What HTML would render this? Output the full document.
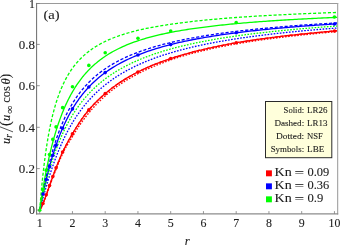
<!DOCTYPE html>
<html><head><meta charset="utf-8"><title>plot</title>
<style>
html,body{margin:0;padding:0;background:#fff;}
body{width:341px;height:245px;overflow:hidden;font-family:"Liberation Serif",serif;}
svg{display:block;will-change:transform;}
text{font-family:"Liberation Serif",serif;fill:#1c1c1c;stroke:#1c1c1c;stroke-width:0.1px;}
</style></head><body>
<svg width="341" height="245" viewBox="0 0 341 245">
<rect width="341" height="245" fill="#fff"/>
<defs><clipPath id="cp"><rect x="37" y="4" width="300.5" height="209.5"/></clipPath></defs>

<g clip-path="url(#cp)" fill="none" stroke-width="1.3" stroke-linejoin="round">
<path d="M39.70,210.30 L40.25,209.45 L40.80,208.50 L41.35,207.76 L41.90,206.56 L42.45,205.29 L43.00,203.99 L43.55,202.72 L44.10,201.33 L44.65,199.91 L45.20,198.46 L45.75,196.99 L46.31,195.50 L46.86,193.99 L47.41,192.48 L47.96,190.96 L48.51,189.44 L49.06,187.91 L49.61,186.39 L50.16,184.86 L50.71,183.35 L51.26,181.84 L51.81,180.33 L52.36,178.84 L52.91,177.36 L53.46,175.90 L54.01,174.44 L54.56,173.00 L55.11,171.58 L55.66,170.17 L56.21,168.77 L56.76,167.39 L57.31,166.03 L57.86,164.68 L58.41,163.35 L58.96,162.04 L59.52,160.74 L60.07,159.46 L60.62,158.20 L61.17,156.95 L61.72,155.72 L62.27,154.51 L62.82,153.34 L63.37,152.22 L63.92,151.13 L64.47,150.05 L65.02,148.99 L65.57,147.94 L66.12,146.94 L66.67,145.99 L67.22,145.05 L67.77,144.14 L68.32,143.23 L68.87,142.34 L69.42,141.47 L69.97,140.61 L70.52,139.76 L71.07,138.93 L71.62,138.11 L72.17,137.16 L72.73,136.21 L73.28,135.27 L73.83,134.34 L74.38,133.42 L74.93,132.51 L75.48,131.62 L76.03,130.73 L76.58,129.86 L77.13,128.99 L77.68,128.14 L78.23,127.29 L78.78,126.46 L79.33,125.64 L79.88,124.83 L80.43,124.02 L80.98,123.23 L81.53,122.44 L82.08,121.67 L82.63,120.90 L83.18,120.15 L83.73,119.40 L84.28,118.66 L84.83,117.93 L85.38,117.21 L85.94,116.49 L86.49,115.79 L87.04,115.09 L87.59,114.40 L88.14,113.72 L88.69,113.04 L89.24,112.38 L89.79,111.72 L90.34,111.07 L90.89,110.42 L91.44,109.79 L91.99,109.16 L92.54,108.54 L93.09,107.92 L93.64,107.31 L94.19,106.71 L94.74,106.11 L95.29,105.52 L95.84,104.94 L96.39,104.36 L96.94,103.79 L97.49,103.23 L98.04,102.67 L98.59,102.12 L99.15,101.57 L99.70,101.03 L100.25,100.49 L100.80,99.96 L101.35,99.44 L101.90,98.92 L102.45,98.40 L103.00,97.90 L103.55,97.39 L104.10,96.89 L104.65,96.40 L105.20,95.91 L107.15,94.22 L109.11,92.58 L111.06,91.00 L113.02,89.48 L114.97,88.00 L116.92,86.57 L118.88,85.19 L120.83,83.85 L122.79,82.56 L124.74,81.30 L126.69,80.08 L128.65,78.90 L130.60,77.75 L132.56,76.64 L134.51,75.56 L136.46,74.51 L138.42,73.49 L140.37,72.49 L142.33,71.53 L144.28,70.59 L146.23,69.67 L148.19,68.78 L150.14,67.92 L152.10,67.07 L154.05,66.25 L156.00,65.45 L157.96,64.66 L159.91,63.90 L161.87,63.16 L163.82,62.43 L165.77,61.72 L167.73,61.03 L169.68,60.23 L171.64,59.49 L173.59,58.85 L175.54,58.22 L177.50,57.61 L179.45,57.01 L181.41,56.43 L183.36,55.85 L185.31,55.29 L187.27,54.74 L189.22,54.20 L191.18,53.67 L193.13,53.16 L195.08,52.65 L197.04,52.15 L198.99,51.66 L200.95,51.18 L202.90,50.71 L204.85,50.25 L206.81,49.79 L208.76,49.35 L210.72,48.91 L212.67,48.48 L214.62,48.06 L216.58,47.64 L218.53,47.23 L220.49,46.83 L222.44,46.44 L224.39,46.05 L226.35,45.67 L228.30,45.29 L230.26,44.93 L232.21,44.56 L234.16,44.21 L236.12,43.85 L238.07,43.52 L240.03,43.19 L241.98,42.87 L243.93,42.55 L245.89,42.24 L247.84,41.93 L249.80,41.63 L251.75,41.33 L253.70,41.04 L255.66,40.75 L257.61,40.46 L259.57,40.18 L261.52,39.90 L263.47,39.63 L265.43,39.36 L267.38,39.10 L269.34,38.84 L271.29,38.58 L273.24,38.33 L275.20,38.08 L277.15,37.83 L279.11,37.59 L281.06,37.35 L283.01,37.11 L284.97,36.88 L286.92,36.65 L288.88,36.42 L290.83,36.19 L292.78,35.97 L294.74,35.75 L296.69,35.54 L298.65,35.33 L300.60,35.12 L302.55,34.91 L304.51,34.70 L306.46,34.50 L308.42,34.30 L310.37,34.11 L312.32,33.91 L314.28,33.72 L316.23,33.53 L318.19,33.34 L320.14,33.16 L322.09,32.97 L324.05,32.79 L326.00,32.61 L327.96,32.44 L329.91,32.26 L331.86,32.09 L333.82,31.92 L335.77,31.75 L337.72,31.59" stroke="#ff0000" stroke-dasharray="1.65 1.42"/>
<path d="M39.70,210.30 L40.25,209.38 L40.80,208.36 L41.35,207.24 L41.90,206.04 L42.45,204.77 L43.00,203.44 L43.55,202.06 L44.10,200.64 L44.65,199.19 L45.20,197.70 L45.75,196.19 L46.31,194.67 L46.86,193.13 L47.41,191.58 L47.96,190.02 L48.51,188.46 L49.06,186.91 L49.61,185.35 L50.16,183.80 L50.71,182.25 L51.26,180.71 L51.81,179.18 L52.36,177.66 L52.91,176.16 L53.46,174.66 L54.01,173.18 L54.56,171.71 L55.11,170.26 L55.66,168.82 L56.21,167.40 L56.76,165.99 L57.31,164.60 L57.86,163.23 L58.41,161.87 L58.96,160.53 L59.52,159.20 L60.07,157.89 L60.62,156.60 L61.17,155.33 L61.72,154.07 L62.27,152.83 L62.82,151.63 L63.37,150.49 L63.92,149.37 L64.47,148.26 L65.02,147.17 L65.57,146.09 L66.12,145.03 L66.67,143.99 L67.22,142.96 L67.77,141.95 L68.32,140.95 L68.87,139.96 L69.42,138.99 L69.97,138.04 L70.52,137.09 L71.07,136.17 L71.62,135.25 L72.17,134.35 L72.73,133.42 L73.28,132.46 L73.83,131.52 L74.38,130.58 L74.93,129.66 L75.48,128.75 L76.03,127.85 L76.58,126.97 L77.13,126.09 L77.68,125.23 L78.23,124.38 L78.78,123.54 L79.33,122.71 L79.88,121.89 L80.43,121.08 L80.98,120.28 L81.53,119.49 L82.08,118.72 L82.63,117.95 L83.18,117.19 L83.73,116.44 L84.28,115.69 L84.83,114.96 L85.38,114.24 L85.94,113.52 L86.49,112.82 L87.04,112.12 L87.59,111.43 L88.14,110.75 L88.69,110.08 L89.24,109.43 L89.79,108.79 L90.34,108.16 L90.89,107.54 L91.44,106.93 L91.99,106.32 L92.54,105.72 L93.09,105.13 L93.64,104.54 L94.19,103.97 L94.74,103.39 L95.29,102.83 L95.84,102.27 L96.39,101.71 L96.94,101.17 L97.49,100.63 L98.04,100.09 L98.59,99.56 L99.15,99.04 L99.70,98.52 L100.25,98.01 L100.80,97.51 L101.35,97.01 L101.90,96.51 L102.45,96.02 L103.00,95.54 L103.55,95.06 L104.10,94.59 L104.65,94.12 L105.20,93.65 L107.15,91.99 L109.11,90.39 L111.06,88.85 L113.02,87.35 L114.97,85.91 L116.92,84.51 L118.88,83.16 L120.83,81.85 L122.79,80.58 L124.74,79.35 L126.69,78.16 L128.65,77.00 L130.60,75.88 L132.56,74.79 L134.51,73.73 L136.46,72.69 L138.42,71.69 L140.37,70.73 L142.33,69.79 L144.28,68.88 L146.23,67.99 L148.19,67.12 L150.14,66.28 L152.10,65.46 L154.05,64.66 L156.00,63.87 L157.96,63.11 L159.91,62.37 L161.87,61.64 L163.82,60.93 L165.77,60.24 L167.73,59.56 L169.68,58.89 L171.64,58.25 L173.59,57.61 L175.54,56.99 L177.50,56.39 L179.45,55.79 L181.41,55.21 L183.36,54.64 L185.31,54.09 L187.27,53.54 L189.22,53.01 L191.18,52.48 L193.13,51.97 L195.08,51.47 L197.04,50.97 L198.99,50.49 L200.95,50.01 L202.90,49.55 L204.85,49.09 L206.81,48.64 L208.76,48.20 L210.72,47.77 L212.67,47.34 L214.62,46.93 L216.58,46.52 L218.53,46.11 L220.49,45.72 L222.44,45.33 L224.39,44.94 L226.35,44.57 L228.30,44.20 L230.26,43.83 L232.21,43.48 L234.16,43.12 L236.12,42.78 L238.07,42.45 L240.03,42.13 L241.98,41.81 L243.93,41.49 L245.89,41.19 L247.84,40.88 L249.80,40.59 L251.75,40.29 L253.70,40.00 L255.66,39.72 L257.61,39.44 L259.57,39.16 L261.52,38.89 L263.47,38.62 L265.43,38.36 L267.38,38.10 L269.34,37.84 L271.29,37.59 L273.24,37.34 L275.20,37.10 L277.15,36.86 L279.11,36.62 L281.06,36.38 L283.01,36.15 L284.97,35.92 L286.92,35.70 L288.88,35.48 L290.83,35.26 L292.78,35.04 L294.74,34.83 L296.69,34.62 L298.65,34.41 L300.60,34.20 L302.55,34.00 L304.51,33.80 L306.46,33.60 L308.42,33.41 L310.37,33.22 L312.32,33.03 L314.28,32.84 L316.23,32.65 L318.19,32.47 L320.14,32.29 L322.09,32.11 L324.05,31.94 L326.00,31.76 L327.96,31.59 L329.91,31.42 L331.86,31.25 L333.82,31.09 L335.77,30.92 L337.72,30.76" stroke="#ff0000" stroke-dasharray="3.1 1.85"/>
<path d="M39.70,210.30 L40.25,209.38 L40.80,208.36 L41.35,207.24 L41.90,206.04 L42.45,204.77 L43.00,203.44 L43.55,202.06 L44.10,200.64 L44.65,199.19 L45.20,197.70 L45.75,196.19 L46.31,194.67 L46.86,193.13 L47.41,191.58 L47.96,190.02 L48.51,188.46 L49.06,186.91 L49.61,185.35 L50.16,183.80 L50.71,182.25 L51.26,180.71 L51.81,179.18 L52.36,177.66 L52.91,176.16 L53.46,174.66 L54.01,173.18 L54.56,171.71 L55.11,170.26 L55.66,168.82 L56.21,167.40 L56.76,165.99 L57.31,164.60 L57.86,163.23 L58.41,161.87 L58.96,160.53 L59.52,159.20 L60.07,157.89 L60.62,156.60 L61.17,155.33 L61.72,154.07 L62.27,152.83 L62.82,151.63 L63.37,150.49 L63.92,149.37 L64.47,148.26 L65.02,147.17 L65.57,146.09 L66.12,145.03 L66.67,143.99 L67.22,142.96 L67.77,141.95 L68.32,140.95 L68.87,139.96 L69.42,138.99 L69.97,138.04 L70.52,137.09 L71.07,136.17 L71.62,135.25 L72.17,134.35 L72.73,133.42 L73.28,132.46 L73.83,131.52 L74.38,130.58 L74.93,129.66 L75.48,128.75 L76.03,127.85 L76.58,126.97 L77.13,126.09 L77.68,125.23 L78.23,124.38 L78.78,123.54 L79.33,122.71 L79.88,121.89 L80.43,121.08 L80.98,120.28 L81.53,119.49 L82.08,118.72 L82.63,117.95 L83.18,117.19 L83.73,116.44 L84.28,115.69 L84.83,114.96 L85.38,114.24 L85.94,113.52 L86.49,112.82 L87.04,112.12 L87.59,111.43 L88.14,110.75 L88.69,110.08 L89.24,109.43 L89.79,108.79 L90.34,108.16 L90.89,107.54 L91.44,106.93 L91.99,106.32 L92.54,105.72 L93.09,105.13 L93.64,104.54 L94.19,103.97 L94.74,103.39 L95.29,102.83 L95.84,102.27 L96.39,101.71 L96.94,101.17 L97.49,100.63 L98.04,100.09 L98.59,99.56 L99.15,99.04 L99.70,98.52 L100.25,98.01 L100.80,97.51 L101.35,97.01 L101.90,96.51 L102.45,96.02 L103.00,95.54 L103.55,95.06 L104.10,94.59 L104.65,94.12 L105.20,93.65 L107.15,91.99 L109.11,90.39 L111.06,88.85 L113.02,87.35 L114.97,85.91 L116.92,84.51 L118.88,83.16 L120.83,81.85 L122.79,80.58 L124.74,79.35 L126.69,78.16 L128.65,77.00 L130.60,75.88 L132.56,74.79 L134.51,73.73 L136.46,72.69 L138.42,71.69 L140.37,70.73 L142.33,69.79 L144.28,68.88 L146.23,67.99 L148.19,67.12 L150.14,66.28 L152.10,65.46 L154.05,64.66 L156.00,63.87 L157.96,63.11 L159.91,62.37 L161.87,61.64 L163.82,60.93 L165.77,60.24 L167.73,59.56 L169.68,58.89 L171.64,58.25 L173.59,57.61 L175.54,56.99 L177.50,56.39 L179.45,55.79 L181.41,55.21 L183.36,54.64 L185.31,54.09 L187.27,53.54 L189.22,53.01 L191.18,52.48 L193.13,51.97 L195.08,51.47 L197.04,50.97 L198.99,50.49 L200.95,50.01 L202.90,49.55 L204.85,49.09 L206.81,48.64 L208.76,48.20 L210.72,47.77 L212.67,47.34 L214.62,46.93 L216.58,46.52 L218.53,46.11 L220.49,45.72 L222.44,45.33 L224.39,44.94 L226.35,44.57 L228.30,44.20 L230.26,43.83 L232.21,43.48 L234.16,43.12 L236.12,42.78 L238.07,42.45 L240.03,42.13 L241.98,41.81 L243.93,41.49 L245.89,41.19 L247.84,40.88 L249.80,40.59 L251.75,40.29 L253.70,40.00 L255.66,39.72 L257.61,39.44 L259.57,39.16 L261.52,38.89 L263.47,38.62 L265.43,38.36 L267.38,38.10 L269.34,37.84 L271.29,37.59 L273.24,37.34 L275.20,37.10 L277.15,36.86 L279.11,36.62 L281.06,36.38 L283.01,36.15 L284.97,35.92 L286.92,35.70 L288.88,35.48 L290.83,35.26 L292.78,35.04 L294.74,34.83 L296.69,34.62 L298.65,34.41 L300.60,34.20 L302.55,34.00 L304.51,33.80 L306.46,33.60 L308.42,33.41 L310.37,33.22 L312.32,33.03 L314.28,32.84 L316.23,32.65 L318.19,32.47 L320.14,32.29 L322.09,32.11 L324.05,31.94 L326.00,31.76 L327.96,31.59 L329.91,31.42 L331.86,31.25 L333.82,31.09 L335.77,30.92 L337.72,30.76" stroke="#ff0000"/>
<path d="M39.70,210.30 L40.25,208.25 L40.80,206.20 L41.35,204.15 L41.90,202.11 L42.45,200.09 L43.00,198.08 L43.55,196.08 L44.10,194.11 L44.65,192.15 L45.20,190.22 L45.75,188.31 L46.31,186.42 L46.86,184.55 L47.41,182.71 L47.96,180.90 L48.51,179.10 L49.06,177.34 L49.61,175.60 L50.16,173.88 L50.71,172.19 L51.26,170.53 L51.81,168.89 L52.36,167.28 L52.91,165.69 L53.46,164.12 L54.01,162.58 L54.56,161.07 L55.11,159.57 L55.66,158.10 L56.21,156.66 L56.76,155.23 L57.31,153.83 L57.86,152.45 L58.41,151.10 L58.96,149.76 L59.52,148.44 L60.07,147.15 L60.62,145.88 L61.17,144.62 L61.72,143.39 L62.27,142.17 L62.82,140.97 L63.37,139.79 L63.92,138.63 L64.47,137.49 L65.02,136.36 L65.57,135.26 L66.12,134.16 L66.67,133.09 L67.22,132.03 L67.77,130.99 L68.32,129.96 L68.87,128.95 L69.42,127.95 L69.97,126.96 L70.52,126.00 L71.07,125.04 L71.62,124.10 L72.17,123.17 L72.73,122.26 L73.28,121.36 L73.83,120.47 L74.38,119.59 L74.93,118.73 L75.48,117.88 L76.03,117.04 L76.58,116.21 L77.13,115.39 L77.68,114.58 L78.23,113.79 L78.78,113.01 L79.33,112.23 L79.88,111.47 L80.43,110.71 L80.98,109.97 L81.53,109.24 L82.08,108.51 L82.63,107.80 L83.18,107.09 L83.73,106.40 L84.28,105.71 L84.83,105.03 L85.38,104.36 L85.94,103.70 L86.49,103.05 L87.04,102.40 L87.59,101.76 L88.14,101.13 L88.69,100.51 L89.24,99.90 L89.79,99.29 L90.34,98.69 L90.89,98.10 L91.44,97.52 L91.99,96.94 L92.54,96.37 L93.09,95.80 L93.64,95.24 L94.19,94.69 L94.74,94.15 L95.29,93.61 L95.84,93.08 L96.39,92.55 L96.94,92.03 L97.49,91.51 L98.04,91.00 L98.59,90.50 L99.15,90.00 L99.70,89.51 L100.25,89.02 L100.80,88.54 L101.35,88.07 L101.90,87.60 L102.45,87.13 L103.00,86.67 L103.55,86.21 L104.10,85.76 L104.65,85.32 L105.20,84.87 L107.15,83.34 L109.11,81.87 L111.06,80.44 L113.02,79.07 L114.97,77.74 L116.92,76.46 L118.88,75.22 L120.83,74.02 L122.79,72.86 L124.74,71.74 L126.69,70.65 L128.65,69.60 L130.60,68.58 L132.56,67.58 L134.51,66.62 L136.46,65.69 L138.42,64.78 L140.37,63.90 L142.33,63.04 L144.28,62.21 L146.23,61.40 L148.19,60.61 L150.14,59.84 L152.10,59.09 L154.05,58.37 L156.00,57.66 L157.96,56.96 L159.91,56.29 L161.87,55.63 L163.82,54.99 L165.77,54.36 L167.73,53.75 L169.68,53.15 L171.64,52.57 L173.59,52.00 L175.54,51.44 L177.50,50.90 L179.45,50.37 L181.41,49.84 L183.36,49.34 L185.31,48.84 L187.27,48.35 L189.22,47.87 L191.18,47.40 L193.13,46.95 L195.08,46.50 L197.04,46.06 L198.99,45.63 L200.95,45.21 L202.90,44.79 L204.85,44.39 L206.81,43.99 L208.76,43.60 L210.72,43.21 L212.67,42.84 L214.62,42.47 L216.58,42.11 L218.53,41.75 L220.49,41.40 L222.44,41.06 L224.39,40.72 L226.35,40.39 L228.30,40.07 L230.26,39.75 L232.21,39.43 L234.16,39.13 L236.12,38.82 L238.07,38.52 L240.03,38.23 L241.98,37.94 L243.93,37.66 L245.89,37.38 L247.84,37.10 L249.80,36.83 L251.75,36.57 L253.70,36.31 L255.66,36.05 L257.61,35.80 L259.57,35.55 L261.52,35.30 L263.47,35.06 L265.43,34.82 L267.38,34.58 L269.34,34.35 L271.29,34.12 L273.24,33.90 L275.20,33.68 L277.15,33.46 L279.11,33.24 L281.06,33.03 L283.01,32.82 L284.97,32.61 L286.92,32.41 L288.88,32.21 L290.83,32.01 L292.78,31.82 L294.74,31.62 L296.69,31.43 L298.65,31.25 L300.60,31.06 L302.55,30.88 L304.51,30.70 L306.46,30.52 L308.42,30.34 L310.37,30.17 L312.32,30.00 L314.28,29.83 L316.23,29.66 L318.19,29.50 L320.14,29.33 L322.09,29.17 L324.05,29.02 L326.00,28.86 L327.96,28.70 L329.91,28.55 L331.86,28.40 L333.82,28.25 L335.77,28.10 L337.72,27.96" stroke="#0000ff" stroke-dasharray="1.65 1.42"/>
<path d="M39.70,210.30 L40.25,207.05 L40.80,203.88 L41.35,200.77 L41.90,197.74 L42.45,194.77 L43.00,191.88 L43.55,189.05 L44.10,186.28 L44.65,183.58 L45.20,180.95 L45.75,178.38 L46.31,175.86 L46.86,173.41 L47.41,171.02 L47.96,168.68 L48.51,166.39 L49.06,164.16 L49.61,161.98 L50.16,159.86 L50.71,157.78 L51.26,155.75 L51.81,153.77 L52.36,151.83 L52.91,149.94 L53.46,148.09 L54.01,146.28 L54.56,144.52 L55.11,142.79 L55.66,141.10 L56.21,139.45 L56.76,137.83 L57.31,136.25 L57.86,134.71 L58.41,133.19 L58.96,131.71 L59.52,130.27 L60.07,128.85 L60.62,127.46 L61.17,126.10 L61.72,124.77 L62.27,123.47 L62.82,122.19 L63.37,120.94 L63.92,119.72 L64.47,118.52 L65.02,117.34 L65.57,116.19 L66.12,115.05 L66.67,113.95 L67.22,112.86 L67.77,111.79 L68.32,110.74 L68.87,109.72 L69.42,108.71 L69.97,107.72 L70.52,106.75 L71.07,105.80 L71.62,104.86 L72.17,103.95 L72.73,103.04 L73.28,102.16 L73.83,101.29 L74.38,100.43 L74.93,99.59 L75.48,98.77 L76.03,97.96 L76.58,97.16 L77.13,96.38 L77.68,95.61 L78.23,94.85 L78.78,94.10 L79.33,93.37 L79.88,92.65 L80.43,91.94 L80.98,91.24 L81.53,90.56 L82.08,89.88 L82.63,89.22 L83.18,88.56 L83.73,87.92 L84.28,87.28 L84.83,86.66 L85.38,86.05 L85.94,85.44 L86.49,84.84 L87.04,84.25 L87.59,83.68 L88.14,83.10 L88.69,82.54 L89.24,81.99 L89.79,81.44 L90.34,80.90 L90.89,80.37 L91.44,79.85 L91.99,79.33 L92.54,78.83 L93.09,78.32 L93.64,77.83 L94.19,77.34 L94.74,76.86 L95.29,76.38 L95.84,75.92 L96.39,75.45 L96.94,75.00 L97.49,74.55 L98.04,74.10 L98.59,73.66 L99.15,73.23 L99.70,72.80 L100.25,72.38 L100.80,71.96 L101.35,71.55 L101.90,71.14 L102.45,70.74 L103.00,70.35 L103.55,69.95 L104.10,69.57 L104.65,69.18 L105.20,68.81 L107.15,67.50 L109.11,66.25 L111.06,65.05 L113.02,63.89 L114.97,62.78 L116.92,61.71 L118.88,60.68 L120.83,59.68 L122.79,58.73 L124.74,57.80 L126.69,56.91 L128.65,56.04 L130.60,55.21 L132.56,54.40 L134.51,53.61 L136.46,52.85 L138.42,52.12 L140.37,51.40 L142.33,50.71 L144.28,50.04 L146.23,49.38 L148.19,48.75 L150.14,48.13 L152.10,47.53 L154.05,46.95 L156.00,46.38 L157.96,45.82 L159.91,45.28 L161.87,44.76 L163.82,44.24 L165.77,43.74 L167.73,43.26 L169.68,42.78 L171.64,42.32 L173.59,41.86 L175.54,41.42 L177.50,40.99 L179.45,40.56 L181.41,40.15 L183.36,39.74 L185.31,39.35 L187.27,38.96 L189.22,38.58 L191.18,38.21 L193.13,37.85 L195.08,37.49 L197.04,37.14 L198.99,36.80 L200.95,36.47 L202.90,36.14 L204.85,35.82 L206.81,35.50 L208.76,35.19 L210.72,34.89 L212.67,34.59 L214.62,34.30 L216.58,34.01 L218.53,33.73 L220.49,33.45 L222.44,33.18 L224.39,32.92 L226.35,32.65 L228.30,32.40 L230.26,32.14 L232.21,31.90 L234.16,31.65 L236.12,31.41 L238.07,31.18 L240.03,30.94 L241.98,30.72 L243.93,30.49 L245.89,30.27 L247.84,30.05 L249.80,29.84 L251.75,29.63 L253.70,29.42 L255.66,29.22 L257.61,29.02 L259.57,28.82 L261.52,28.62 L263.47,28.43 L265.43,28.24 L267.38,28.06 L269.34,27.87 L271.29,27.69 L273.24,27.52 L275.20,27.34 L277.15,27.17 L279.11,27.00 L281.06,26.83 L283.01,26.66 L284.97,26.50 L286.92,26.34 L288.88,26.18 L290.83,26.02 L292.78,25.87 L294.74,25.72 L296.69,25.57 L298.65,25.42 L300.60,25.27 L302.55,25.13 L304.51,24.98 L306.46,24.84 L308.42,24.70 L310.37,24.57 L312.32,24.43 L314.28,24.30 L316.23,24.16 L318.19,24.03 L320.14,23.91 L322.09,23.78 L324.05,23.65 L326.00,23.53 L327.96,23.41 L329.91,23.28 L331.86,23.16 L333.82,23.05 L335.77,22.93 L337.72,22.81" stroke="#0000ff" stroke-dasharray="3.1 1.85"/>
<path d="M39.70,210.30 L40.25,207.44 L40.80,204.63 L41.35,201.87 L41.90,199.15 L42.45,196.49 L43.00,193.88 L43.55,191.32 L44.10,188.80 L44.65,186.34 L45.20,183.93 L45.75,181.56 L46.31,179.24 L46.86,176.97 L47.41,174.75 L47.96,172.57 L48.51,170.43 L49.06,168.34 L49.61,166.29 L50.16,164.29 L50.71,162.32 L51.26,160.40 L51.81,158.51 L52.36,156.67 L52.91,154.86 L53.46,153.08 L54.01,151.35 L54.56,149.64 L55.11,147.98 L55.66,146.34 L56.21,144.74 L56.76,143.17 L57.31,141.63 L57.86,140.12 L58.41,138.64 L58.96,137.19 L59.52,135.76 L60.07,134.37 L60.62,133.00 L61.17,131.65 L61.72,130.34 L62.27,129.04 L62.82,127.77 L63.37,126.53 L63.92,125.31 L64.47,124.10 L65.02,122.93 L65.57,121.77 L66.12,120.63 L66.67,119.52 L67.22,118.42 L67.77,117.34 L68.32,116.28 L68.87,115.25 L69.42,114.22 L69.97,113.22 L70.52,112.23 L71.07,111.26 L71.62,110.31 L72.17,109.37 L72.73,108.45 L73.28,107.54 L73.83,106.65 L74.38,105.77 L74.93,104.91 L75.48,104.06 L76.03,103.23 L76.58,102.40 L77.13,101.60 L77.68,100.80 L78.23,100.02 L78.78,99.24 L79.33,98.48 L79.88,97.74 L80.43,97.00 L80.98,96.28 L81.53,95.56 L82.08,94.86 L82.63,94.16 L83.18,93.48 L83.73,92.81 L84.28,92.15 L84.83,91.49 L85.38,90.85 L85.94,90.21 L86.49,89.59 L87.04,88.97 L87.59,88.36 L88.14,87.76 L88.69,87.17 L89.24,86.59 L89.79,86.01 L90.34,85.45 L90.89,84.89 L91.44,84.34 L91.99,83.79 L92.54,83.25 L93.09,82.72 L93.64,82.20 L94.19,81.69 L94.74,81.18 L95.29,80.67 L95.84,80.18 L96.39,79.69 L96.94,79.20 L97.49,78.73 L98.04,78.25 L98.59,77.79 L99.15,77.33 L99.70,76.87 L100.25,76.43 L100.80,75.98 L101.35,75.54 L101.90,75.11 L102.45,74.69 L103.00,74.26 L103.55,73.85 L104.10,73.43 L104.65,73.03 L105.20,72.62 L107.15,71.23 L109.11,69.90 L111.06,68.61 L113.02,67.38 L114.97,66.19 L116.92,65.05 L118.88,63.95 L120.83,62.88 L122.79,61.86 L124.74,60.87 L126.69,59.91 L128.65,58.99 L130.60,58.09 L132.56,57.23 L134.51,56.39 L136.46,55.58 L138.42,54.79 L140.37,54.03 L142.33,53.29 L144.28,52.57 L146.23,51.88 L148.19,51.20 L150.14,50.54 L152.10,49.90 L154.05,49.28 L156.00,48.67 L157.96,48.08 L159.91,47.51 L161.87,46.95 L163.82,46.40 L165.77,45.87 L167.73,45.35 L169.68,44.85 L171.64,44.35 L173.59,43.87 L175.54,43.40 L177.50,42.94 L179.45,42.49 L181.41,42.05 L183.36,41.62 L185.31,41.20 L187.27,40.79 L189.22,40.39 L191.18,40.00 L193.13,39.61 L195.08,39.24 L197.04,38.87 L198.99,38.51 L200.95,38.15 L202.90,37.81 L204.85,37.47 L206.81,37.14 L208.76,36.81 L210.72,36.49 L212.67,36.17 L214.62,35.87 L216.58,35.56 L218.53,35.27 L220.49,34.98 L222.44,34.69 L224.39,34.41 L226.35,34.13 L228.30,33.86 L230.26,33.59 L232.21,33.33 L234.16,33.08 L236.12,32.82 L238.07,32.57 L240.03,32.33 L241.98,32.09 L243.93,31.85 L245.89,31.62 L247.84,31.39 L249.80,31.17 L251.75,30.95 L253.70,30.73 L255.66,30.51 L257.61,30.30 L259.57,30.09 L261.52,29.89 L263.47,29.69 L265.43,29.49 L267.38,29.29 L269.34,29.10 L271.29,28.91 L273.24,28.72 L275.20,28.54 L277.15,28.36 L279.11,28.18 L281.06,28.00 L283.01,27.83 L284.97,27.66 L286.92,27.49 L288.88,27.32 L290.83,27.15 L292.78,26.99 L294.74,26.83 L296.69,26.67 L298.65,26.52 L300.60,26.36 L302.55,26.21 L304.51,26.06 L306.46,25.91 L308.42,25.77 L310.37,25.62 L312.32,25.48 L314.28,25.34 L316.23,25.20 L318.19,25.07 L320.14,24.93 L322.09,24.80 L324.05,24.66 L326.00,24.53 L327.96,24.41 L329.91,24.28 L331.86,24.15 L333.82,24.03 L335.77,23.91 L337.72,23.78" stroke="#0000ff"/>
<path d="M39.70,210.30 L40.25,207.60 L40.80,204.95 L41.35,202.36 L41.90,199.82 L42.45,197.33 L43.00,194.89 L43.55,192.50 L44.10,190.16 L44.65,187.87 L45.20,185.63 L45.75,183.43 L46.31,181.28 L46.86,179.17 L47.41,177.11 L47.96,175.09 L48.51,173.11 L49.06,171.17 L49.61,169.27 L50.16,167.41 L50.71,165.58 L51.26,163.80 L51.81,162.04 L52.36,160.33 L52.91,158.64 L53.46,156.99 L54.01,155.38 L54.56,153.79 L55.11,152.23 L55.66,150.71 L56.21,149.21 L56.76,147.74 L57.31,146.30 L57.86,144.88 L58.41,143.49 L58.96,142.13 L59.52,140.79 L60.07,139.48 L60.62,138.19 L61.17,136.92 L61.72,135.67 L62.27,134.45 L62.82,133.25 L63.37,132.07 L63.92,130.90 L64.47,129.76 L65.02,128.64 L65.57,127.54 L66.12,126.46 L66.67,125.39 L67.22,124.34 L67.77,123.31 L68.32,122.29 L68.87,121.30 L69.42,120.31 L69.97,119.35 L70.52,118.40 L71.07,117.46 L71.62,116.54 L72.17,115.63 L72.73,114.74 L73.28,113.86 L73.83,112.99 L74.38,112.14 L74.93,111.30 L75.48,110.47 L76.03,109.66 L76.58,108.85 L77.13,108.06 L77.68,107.28 L78.23,106.51 L78.78,105.75 L79.33,105.01 L79.88,104.27 L80.43,103.54 L80.98,102.83 L81.53,102.12 L82.08,101.42 L82.63,100.74 L83.18,100.06 L83.73,99.39 L84.28,98.73 L84.83,98.08 L85.38,97.44 L85.94,96.81 L86.49,96.18 L87.04,95.56 L87.59,94.95 L88.14,94.35 L88.69,93.76 L89.24,93.17 L89.79,92.59 L90.34,92.02 L90.89,91.46 L91.44,90.90 L91.99,90.35 L92.54,89.81 L93.09,89.27 L93.64,88.74 L94.19,88.22 L94.74,87.70 L95.29,87.19 L95.84,86.68 L96.39,86.18 L96.94,85.69 L97.49,85.20 L98.04,84.72 L98.59,84.24 L99.15,83.77 L99.70,83.30 L100.25,82.84 L100.80,82.39 L101.35,81.94 L101.90,81.49 L102.45,81.05 L103.00,80.62 L103.55,80.19 L104.10,79.76 L104.65,79.34 L105.20,78.92 L107.15,77.48 L109.11,76.09 L111.06,74.75 L113.02,73.46 L114.97,72.21 L116.92,71.01 L118.88,69.85 L120.83,68.73 L122.79,67.64 L124.74,66.59 L126.69,65.57 L128.65,64.59 L130.60,63.63 L132.56,62.71 L134.51,61.81 L136.46,60.94 L138.42,60.09 L140.37,59.27 L142.33,58.47 L144.28,57.69 L146.23,56.94 L148.19,56.20 L150.14,55.49 L152.10,54.79 L154.05,54.12 L156.00,53.46 L157.96,52.81 L159.91,52.19 L161.87,51.58 L163.82,50.98 L165.77,50.40 L167.73,49.83 L169.68,49.28 L171.64,48.73 L173.59,48.21 L175.54,47.69 L177.50,47.18 L179.45,46.69 L181.41,46.21 L183.36,45.74 L185.31,45.27 L187.27,44.82 L189.22,44.38 L191.18,43.95 L193.13,43.52 L195.08,43.11 L197.04,42.70 L198.99,42.30 L200.95,41.91 L202.90,41.53 L204.85,41.15 L206.81,40.79 L208.76,40.42 L210.72,40.07 L212.67,39.72 L214.62,39.38 L216.58,39.05 L218.53,38.72 L220.49,38.40 L222.44,38.08 L224.39,37.77 L226.35,37.46 L228.30,37.16 L230.26,36.87 L232.21,36.58 L234.16,36.29 L236.12,36.01 L238.07,35.74 L240.03,35.47 L241.98,35.20 L243.93,34.94 L245.89,34.68 L247.84,34.43 L249.80,34.18 L251.75,33.93 L253.70,33.69 L255.66,33.45 L257.61,33.22 L259.57,32.99 L261.52,32.76 L263.47,32.54 L265.43,32.31 L267.38,32.10 L269.34,31.88 L271.29,31.67 L273.24,31.47 L275.20,31.26 L277.15,31.06 L279.11,30.86 L281.06,30.66 L283.01,30.47 L284.97,30.28 L286.92,30.09 L288.88,29.91 L290.83,29.73 L292.78,29.55 L294.74,29.37 L296.69,29.19 L298.65,29.02 L300.60,28.85 L302.55,28.68 L304.51,28.51 L306.46,28.35 L308.42,28.19 L310.37,28.03 L312.32,27.87 L314.28,27.71 L316.23,27.56 L318.19,27.41 L320.14,27.26 L322.09,27.11 L324.05,26.96 L326.00,26.82 L327.96,26.68 L329.91,26.53 L331.86,26.40 L333.82,26.26 L335.77,26.12 L337.72,25.99" stroke="#00ff00" stroke-dasharray="1.65 1.42"/>
<path d="M39.70,210.30 L40.25,203.37 L40.80,196.84 L41.35,190.70 L41.90,184.91 L42.45,179.43 L43.00,174.26 L43.55,169.36 L44.10,164.72 L44.65,160.32 L45.20,156.14 L45.75,152.17 L46.31,148.38 L46.86,144.78 L47.41,141.35 L47.96,138.07 L48.51,134.94 L49.06,131.94 L49.61,129.08 L50.16,126.34 L50.71,123.71 L51.26,121.18 L51.81,118.76 L52.36,116.44 L52.91,114.20 L53.46,112.05 L54.01,109.98 L54.56,107.99 L55.11,106.06 L55.66,104.21 L56.21,102.42 L56.76,100.69 L57.31,99.02 L57.86,97.41 L58.41,95.85 L58.96,94.34 L59.52,92.88 L60.07,91.46 L60.62,90.09 L61.17,88.75 L61.72,87.46 L62.27,86.21 L62.82,84.99 L63.37,83.81 L63.92,82.66 L64.47,81.54 L65.02,80.46 L65.57,79.40 L66.12,78.37 L66.67,77.37 L67.22,76.39 L67.77,75.44 L68.32,74.51 L68.87,73.61 L69.42,72.73 L69.97,71.87 L70.52,71.03 L71.07,70.21 L71.62,69.41 L72.17,68.63 L72.73,67.87 L73.28,67.13 L73.83,66.40 L74.38,65.68 L74.93,64.99 L75.48,64.31 L76.03,63.64 L76.58,62.99 L77.13,62.35 L77.68,61.72 L78.23,61.11 L78.78,60.51 L79.33,59.92 L79.88,59.35 L80.43,58.78 L80.98,58.23 L81.53,57.69 L82.08,57.16 L82.63,56.63 L83.18,56.12 L83.73,55.62 L84.28,55.13 L84.83,54.64 L85.38,54.17 L85.94,53.70 L86.49,53.24 L87.04,52.79 L87.59,52.35 L88.14,51.92 L88.69,51.49 L89.24,51.07 L89.79,50.66 L90.34,50.26 L90.89,49.86 L91.44,49.47 L91.99,49.08 L92.54,48.70 L93.09,48.33 L93.64,47.96 L94.19,47.60 L94.74,47.25 L95.29,46.90 L95.84,46.56 L96.39,46.22 L96.94,45.88 L97.49,45.56 L98.04,45.23 L98.59,44.92 L99.15,44.60 L99.70,44.29 L100.25,43.99 L100.80,43.69 L101.35,43.39 L101.90,43.10 L102.45,42.82 L103.00,42.53 L103.55,42.26 L104.10,41.98 L104.65,41.71 L105.20,41.44 L107.15,40.53 L109.11,39.65 L111.06,38.82 L113.02,38.02 L114.97,37.26 L116.92,36.53 L118.88,35.83 L120.83,35.17 L122.79,34.53 L124.74,33.91 L126.69,33.32 L128.65,32.75 L130.60,32.21 L132.56,31.68 L134.51,31.17 L136.46,30.68 L138.42,30.21 L140.37,29.76 L142.33,29.32 L144.28,28.89 L146.23,28.48 L148.19,28.09 L150.14,27.70 L152.10,27.33 L154.05,26.97 L156.00,26.62 L157.96,26.28 L159.91,25.95 L161.87,25.63 L163.82,25.32 L165.77,25.02 L167.73,24.72 L169.68,24.44 L171.64,24.15 L173.59,23.87 L175.54,23.59 L177.50,23.33 L179.45,23.06 L181.41,22.81 L183.36,22.56 L185.31,22.31 L187.27,22.08 L189.22,21.84 L191.18,21.62 L193.13,21.39 L195.08,21.18 L197.04,20.96 L198.99,20.75 L200.95,20.55 L202.90,20.35 L204.85,20.15 L206.81,19.96 L208.76,19.77 L210.72,19.59 L212.67,19.41 L214.62,19.23 L216.58,19.06 L218.53,18.89 L220.49,18.72 L222.44,18.56 L224.39,18.40 L226.35,18.24 L228.30,18.08 L230.26,17.93 L232.21,17.78 L234.16,17.63 L236.12,17.49 L238.07,17.35 L240.03,17.21 L241.98,17.08 L243.93,16.94 L245.89,16.81 L247.84,16.69 L249.80,16.56 L251.75,16.44 L253.70,16.32 L255.66,16.20 L257.61,16.08 L259.57,15.96 L261.52,15.85 L263.47,15.74 L265.43,15.63 L267.38,15.52 L269.34,15.41 L271.29,15.30 L273.24,15.20 L275.20,15.10 L277.15,14.99 L279.11,14.89 L281.06,14.80 L283.01,14.70 L284.97,14.60 L286.92,14.51 L288.88,14.41 L290.83,14.32 L292.78,14.23 L294.74,14.14 L296.69,14.05 L298.65,13.97 L300.60,13.88 L302.55,13.79 L304.51,13.71 L306.46,13.63 L308.42,13.54 L310.37,13.46 L312.32,13.38 L314.28,13.30 L316.23,13.23 L318.19,13.15 L320.14,13.07 L322.09,13.00 L324.05,12.92 L326.00,12.85 L327.96,12.77 L329.91,12.70 L331.86,12.63 L333.82,12.56 L335.77,12.50 L337.72,12.43" stroke="#00ff00" stroke-dasharray="3.1 1.85"/>
<path d="M39.70,210.30 L40.25,206.43 L40.80,202.67 L41.35,199.02 L41.90,195.47 L42.45,192.03 L43.00,188.68 L43.55,185.43 L44.10,182.27 L44.65,179.19 L45.20,176.20 L45.75,173.29 L46.31,170.46 L46.86,167.71 L47.41,165.03 L47.96,162.42 L48.51,159.88 L49.06,157.41 L49.61,154.99 L50.16,152.64 L50.71,150.35 L51.26,148.12 L51.81,145.95 L52.36,143.82 L52.91,141.75 L53.46,139.73 L54.01,137.76 L54.56,135.83 L55.11,133.96 L55.66,132.12 L56.21,130.33 L56.76,128.58 L57.31,126.87 L57.86,125.20 L58.41,123.57 L58.96,121.97 L59.52,120.41 L60.07,118.89 L60.62,117.39 L61.17,115.94 L61.72,114.51 L62.27,113.11 L62.82,111.74 L63.37,110.40 L63.92,109.09 L64.47,107.81 L65.02,106.56 L65.57,105.33 L66.12,104.12 L66.67,102.94 L67.22,101.78 L67.77,100.65 L68.32,99.54 L68.87,98.45 L69.42,97.38 L69.97,96.34 L70.52,95.31 L71.07,94.30 L71.62,93.32 L72.17,92.35 L72.73,91.40 L73.28,90.46 L73.83,89.55 L74.38,88.65 L74.93,87.77 L75.48,86.90 L76.03,86.05 L76.58,85.22 L77.13,84.40 L77.68,83.59 L78.23,82.80 L78.78,82.03 L79.33,81.26 L79.88,80.51 L80.43,79.77 L80.98,79.05 L81.53,78.34 L82.08,77.64 L82.63,76.95 L83.18,76.27 L83.73,75.61 L84.28,74.95 L84.83,74.31 L85.38,73.68 L85.94,73.05 L86.49,72.44 L87.04,71.84 L87.59,71.24 L88.14,70.66 L88.69,70.08 L89.24,69.52 L89.79,68.96 L90.34,68.41 L90.89,67.87 L91.44,67.34 L91.99,66.82 L92.54,66.30 L93.09,65.80 L93.64,65.30 L94.19,64.80 L94.74,64.32 L95.29,63.84 L95.84,63.37 L96.39,62.91 L96.94,62.45 L97.49,62.00 L98.04,61.55 L98.59,61.12 L99.15,60.68 L99.70,60.26 L100.25,59.84 L100.80,59.42 L101.35,59.02 L101.90,58.61 L102.45,58.22 L103.00,57.83 L103.55,57.44 L104.10,57.06 L104.65,56.68 L105.20,56.31 L107.15,55.04 L109.11,53.82 L111.06,52.66 L113.02,51.55 L114.97,50.48 L116.92,49.47 L118.88,48.49 L120.83,47.56 L122.79,46.66 L124.74,45.80 L126.69,44.97 L128.65,44.18 L130.60,43.42 L132.56,42.68 L134.51,41.97 L136.46,41.29 L138.42,40.63 L140.37,40.00 L142.33,39.38 L144.28,38.79 L146.23,38.22 L148.19,37.66 L150.14,37.13 L152.10,36.61 L154.05,36.11 L156.00,35.62 L157.96,35.15 L159.91,34.69 L161.87,34.25 L163.82,33.82 L165.77,33.40 L167.73,33.00 L169.68,32.60 L171.64,32.22 L173.59,31.85 L175.54,31.48 L177.50,31.13 L179.45,30.79 L181.41,30.45 L183.36,30.12 L185.31,29.81 L187.27,29.50 L189.22,29.19 L191.18,28.90 L193.13,28.61 L195.08,28.33 L197.04,28.05 L198.99,27.78 L200.95,27.52 L202.90,27.27 L204.85,27.02 L206.81,26.77 L208.76,26.53 L210.72,26.30 L212.67,26.07 L214.62,25.84 L216.58,25.62 L218.53,25.40 L220.49,25.19 L222.44,24.99 L224.39,24.78 L226.35,24.58 L228.30,24.39 L230.26,24.20 L232.21,24.01 L234.16,23.82 L236.12,23.64 L238.07,23.47 L240.03,23.29 L241.98,23.12 L243.93,22.95 L245.89,22.79 L247.84,22.62 L249.80,22.46 L251.75,22.31 L253.70,22.15 L255.66,22.00 L257.61,21.85 L259.57,21.71 L261.52,21.56 L263.47,21.42 L265.43,21.28 L267.38,21.14 L269.34,21.01 L271.29,20.87 L273.24,20.74 L275.20,20.61 L277.15,20.49 L279.11,20.36 L281.06,20.24 L283.01,20.12 L284.97,20.00 L286.92,19.88 L288.88,19.76 L290.83,19.65 L292.78,19.54 L294.74,19.42 L296.69,19.31 L298.65,19.21 L300.60,19.10 L302.55,18.99 L304.51,18.89 L306.46,18.79 L308.42,18.69 L310.37,18.59 L312.32,18.49 L314.28,18.39 L316.23,18.30 L318.19,18.20 L320.14,18.11 L322.09,18.01 L324.05,17.92 L326.00,17.83 L327.96,17.74 L329.91,17.66 L331.86,17.57 L333.82,17.48 L335.77,17.40 L337.72,17.32" stroke="#00ff00"/>
</g>
<g>
<circle cx="42.98" cy="203.51" r="1.8" fill="#ff0000"/>
<circle cx="46.25" cy="194.82" r="1.8" fill="#ff0000"/>
<circle cx="49.53" cy="185.58" r="1.8" fill="#ff0000"/>
<circle cx="52.80" cy="176.46" r="1.8" fill="#ff0000"/>
<circle cx="56.08" cy="167.75" r="1.8" fill="#ff0000"/>
<circle cx="62.62" cy="152.03" r="1.8" fill="#ff0000"/>
<circle cx="72.45" cy="133.90" r="1.8" fill="#ff0000"/>
<circle cx="88.83" cy="109.91" r="1.8" fill="#ff0000"/>
<circle cx="105.20" cy="93.65" r="1.8" fill="#ff0000"/>
<circle cx="137.95" cy="71.93" r="1.8" fill="#ff0000"/>
<circle cx="170.70" cy="58.56" r="1.8" fill="#ff0000"/>
<circle cx="236.20" cy="42.76" r="1.8" fill="#ff0000"/>
<circle cx="334.45" cy="31.03" r="1.8" fill="#ff0000"/>
<circle cx="42.98" cy="194.01" r="1.8" fill="#0000ff"/>
<circle cx="46.25" cy="179.47" r="1.8" fill="#0000ff"/>
<circle cx="49.53" cy="166.60" r="1.8" fill="#0000ff"/>
<circle cx="52.80" cy="155.22" r="1.8" fill="#0000ff"/>
<circle cx="56.08" cy="145.14" r="1.8" fill="#0000ff"/>
<circle cx="62.62" cy="128.22" r="1.8" fill="#0000ff"/>
<circle cx="72.45" cy="108.91" r="1.8" fill="#0000ff"/>
<circle cx="88.83" cy="87.03" r="1.8" fill="#0000ff"/>
<circle cx="105.20" cy="72.62" r="1.8" fill="#0000ff"/>
<circle cx="137.95" cy="54.98" r="1.8" fill="#0000ff"/>
<circle cx="170.70" cy="44.59" r="1.8" fill="#0000ff"/>
<circle cx="236.20" cy="32.81" r="1.8" fill="#0000ff"/>
<circle cx="334.45" cy="23.99" r="1.8" fill="#0000ff"/>
<circle cx="39.70" cy="210.30" r="1.8" fill="#00ff00"/>
<circle cx="42.98" cy="189.60" r="1.8" fill="#00ff00"/>
<circle cx="46.25" cy="170.14" r="1.8" fill="#00ff00"/>
<circle cx="49.53" cy="154.62" r="1.8" fill="#00ff00"/>
<circle cx="52.80" cy="139.40" r="1.8" fill="#00ff00"/>
<circle cx="56.08" cy="126.88" r="1.8" fill="#00ff00"/>
<circle cx="62.62" cy="107.63" r="1.8" fill="#00ff00"/>
<circle cx="72.45" cy="86.72" r="1.8" fill="#00ff00"/>
<circle cx="88.83" cy="65.40" r="1.8" fill="#00ff00"/>
<circle cx="105.20" cy="52.77" r="1.8" fill="#00ff00"/>
<circle cx="137.95" cy="38.28" r="1.8" fill="#00ff00"/>
<circle cx="170.70" cy="31.04" r="1.8" fill="#00ff00"/>
<circle cx="236.20" cy="22.55" r="1.8" fill="#00ff00"/>
<circle cx="334.45" cy="16.96" r="1.8" fill="#00ff00"/>
</g>
<g stroke-width="1.15" stroke-linecap="square"><line x1="36.55" y1="3.5" x2="337.65" y2="3.5" stroke="#9a9a9a"/><line x1="337.65" y1="3.5" x2="337.65" y2="213.8" stroke="#a4a4a4"/><line x1="36.55" y1="213.8" x2="337.65" y2="213.8" stroke="#8c8c8c"/><line x1="36.55" y1="3.5" x2="36.55" y2="213.8" stroke="#7a7a7a"/></g>
<g stroke="#7c7c7c" stroke-width="0.8">
<line x1="39.70" y1="213.8" x2="39.70" y2="211.10000000000002"/>
<line x1="72.45" y1="213.8" x2="72.45" y2="211.10000000000002"/>
<line x1="105.20" y1="213.8" x2="105.20" y2="211.10000000000002"/>
<line x1="137.95" y1="213.8" x2="137.95" y2="211.10000000000002"/>
<line x1="170.70" y1="213.8" x2="170.70" y2="211.10000000000002"/>
<line x1="203.45" y1="213.8" x2="203.45" y2="211.10000000000002"/>
<line x1="236.20" y1="213.8" x2="236.20" y2="211.10000000000002"/>
<line x1="268.95" y1="213.8" x2="268.95" y2="211.10000000000002"/>
<line x1="301.70" y1="213.8" x2="301.70" y2="211.10000000000002"/>
<line x1="334.45" y1="213.8" x2="334.45" y2="211.10000000000002"/>
<line x1="36.55" y1="210.00" x2="39.75" y2="210.00"/>
<line x1="36.55" y1="168.60" x2="39.75" y2="168.60"/>
<line x1="36.55" y1="127.30" x2="39.75" y2="127.30"/>
<line x1="36.55" y1="85.70" x2="39.75" y2="85.70"/>
<line x1="36.55" y1="44.40" x2="39.75" y2="44.40"/>
<line x1="36.55" y1="3.50" x2="39.75" y2="3.50"/>
</g>
<text x="39.7" y="227.1" font-size="11.9" text-anchor="middle">1</text>
<text x="72.45" y="227.1" font-size="11.9" text-anchor="middle">2</text>
<text x="105.2" y="227.1" font-size="11.9" text-anchor="middle">3</text>
<text x="137.95" y="227.1" font-size="11.9" text-anchor="middle">4</text>
<text x="170.7" y="227.1" font-size="11.9" text-anchor="middle">5</text>
<text x="203.45" y="227.1" font-size="11.9" text-anchor="middle">6</text>
<text x="236.2" y="227.1" font-size="11.9" text-anchor="middle">7</text>
<text x="268.95" y="227.1" font-size="11.9" text-anchor="middle">8</text>
<text x="301.7" y="227.1" font-size="11.9" text-anchor="middle">9</text>
<text x="334.45" y="227.1" font-size="11.9" text-anchor="middle" textLength="11.8" lengthAdjust="spacingAndGlyphs">10</text>
<text x="34.9" y="214.4" font-size="11.9" text-anchor="end">0</text>
<text x="34.9" y="173.0" font-size="11.9" text-anchor="end" textLength="16.2" lengthAdjust="spacingAndGlyphs">0.2</text>
<text x="34.9" y="131.7" font-size="11.9" text-anchor="end" textLength="16.2" lengthAdjust="spacingAndGlyphs">0.4</text>
<text x="34.9" y="90.1" font-size="11.9" text-anchor="end" textLength="16.2" lengthAdjust="spacingAndGlyphs">0.6</text>
<text x="34.9" y="48.8" font-size="11.9" text-anchor="end" textLength="16.2" lengthAdjust="spacingAndGlyphs">0.8</text>
<text x="34.9" y="7.9" font-size="11.9" text-anchor="end">1</text>
<text x="187.2" y="244.6" font-size="12.8" text-anchor="middle" font-style="italic">r</text>
<g transform="translate(10,143.8) rotate(-90)">
<text x="-0.2" y="0" font-size="12.5" font-style="italic">u</text>
<text x="6.0" y="2.4" font-size="9.3" font-style="italic">r</text>
<line x1="11.9" y1="3" x2="17.0" y2="-10" stroke="#1c1c1c" stroke-width="0.75"/>
<text x="17.9" y="0" font-size="15.2" textLength="4.6" lengthAdjust="spacingAndGlyphs">(</text>
<text x="22.9" y="0" font-size="12.5" font-style="italic">u</text>
<text x="30.0" y="2.6" font-size="11" textLength="8.2" lengthAdjust="spacingAndGlyphs">∞</text>
<text x="41.0" y="0" font-size="12.6" textLength="16.6" lengthAdjust="spacingAndGlyphs">cos</text>
<text x="59.2" y="0" font-size="12.5" font-style="italic">θ</text>
<text x="65.3" y="0" font-size="15.2" textLength="4.6" lengthAdjust="spacingAndGlyphs">)</text>
</g>
<text x="43.4" y="19.1" font-size="12.4" textLength="16.2" lengthAdjust="spacingAndGlyphs">(a)</text>
<rect x="265.5" y="101.5" width="66.3" height="56.2" fill="#ffffdb" stroke="#2a2a2a" stroke-width="1"/>
<text x="304.2" y="112.65" font-size="8.9" text-anchor="end" textLength="20.6" lengthAdjust="spacingAndGlyphs">Solid:</text>
<text x="307.1" y="112.65" font-size="8.9" textLength="20.4" lengthAdjust="spacingAndGlyphs">LR26</text>
<text x="304.2" y="125.65" font-size="8.9" text-anchor="end" textLength="29.8" lengthAdjust="spacingAndGlyphs">Dashed:</text>
<text x="307.1" y="125.65" font-size="8.9" textLength="20.4" lengthAdjust="spacingAndGlyphs">LR13</text>
<text x="304.2" y="138.65" font-size="8.9" text-anchor="end" textLength="28.2" lengthAdjust="spacingAndGlyphs">Dotted:</text>
<text x="307.1" y="138.65" font-size="8.9" textLength="15.8" lengthAdjust="spacingAndGlyphs">NSF</text>
<text x="304.2" y="151.65" font-size="8.9" text-anchor="end" textLength="33.5" lengthAdjust="spacingAndGlyphs">Symbols:</text>
<text x="307.1" y="151.65" font-size="8.9" textLength="17.3" lengthAdjust="spacingAndGlyphs">LBE</text>
<rect x="266" y="170.35" width="5.9" height="5.95" fill="#ff0000"/>
<text x="274.6" y="176.3" font-size="12.1" textLength="17.2" lengthAdjust="spacingAndGlyphs">Kn</text>
<text x="294.4" y="177.2" font-size="12.1" textLength="9.6" lengthAdjust="spacingAndGlyphs">=</text>
<text x="307.5" y="176.3" font-size="12.1" textLength="21.8" lengthAdjust="spacingAndGlyphs">0.09</text>
<rect x="266" y="183.35" width="5.9" height="5.95" fill="#0000ff"/>
<text x="274.6" y="189.3" font-size="12.1" textLength="17.2" lengthAdjust="spacingAndGlyphs">Kn</text>
<text x="294.4" y="190.2" font-size="12.1" textLength="9.6" lengthAdjust="spacingAndGlyphs">=</text>
<text x="307.5" y="189.3" font-size="12.1" textLength="21.8" lengthAdjust="spacingAndGlyphs">0.36</text>
<rect x="266" y="196.35" width="5.9" height="5.95" fill="#00ff00"/>
<text x="274.6" y="202.3" font-size="12.1" textLength="17.2" lengthAdjust="spacingAndGlyphs">Kn</text>
<text x="294.4" y="203.2" font-size="12.1" textLength="9.6" lengthAdjust="spacingAndGlyphs">=</text>
<text x="307.5" y="202.3" font-size="12.1" textLength="15.8" lengthAdjust="spacingAndGlyphs">0.9</text>
</svg></body></html>
